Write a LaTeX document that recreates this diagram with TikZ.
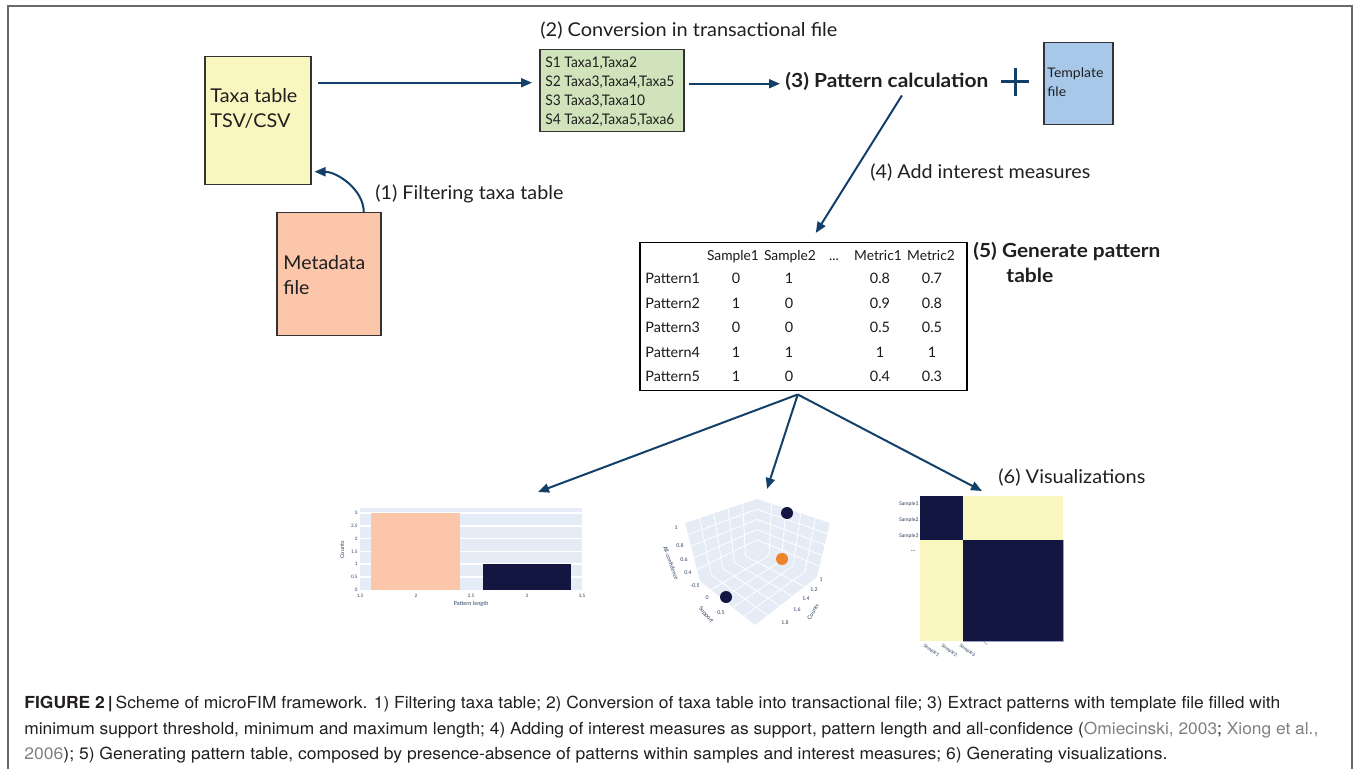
\documentclass[tikz,border=0pt]{standalone}
\usepackage{fontspec}
\setmainfont{Lato}
\newfontfamily\capfont{TeX Gyre Heros}
\usepackage{graphicx}
\usetikzlibrary{arrows.meta,calc}
\definecolor{arrblue}{RGB}{18,64,104}
\definecolor{ybox}{RGB}{250,246,192}
\definecolor{sbox}{RGB}{251,198,170}
\definecolor{gbox}{RGB}{208,227,187}
\definecolor{bbox}{RGB}{168,200,234}
\definecolor{plotbg}{RGB}{229,236,246}
\definecolor{navy}{RGB}{19,22,64}
\definecolor{dotorange}{RGB}{239,131,44}
\definecolor{hyel}{RGB}{250,246,192}
\definecolor{framegray}{RGB}{105,105,105}
\definecolor{captxt}{RGB}{35,31,32}
\definecolor{citegray}{RGB}{128,128,128}
\definecolor{tickc}{RGB}{42,63,95}
\definecolor{heatedge}{RGB}{150,160,200}
\newcommand{\fitw}[2]{\begingroup\setbox0=\hbox{#2}\edef\fitnat{\the\wd0}\pgfmathsetmacro\fitratio{#1*0.5/\fitnat}\scalebox{\fitratio}[1]{\box0}\endgroup}
\tikzset{
  box/.style={draw=black!80, line width=0.75pt, inner sep=0pt, anchor=north west},
  arr/.style={draw=arrblue, line width=1pt, -{Triangle[length=5.5pt,width=4.5pt]}},
  lbl/.style={inner sep=0pt, anchor=base west, font=\fontsize{9.5}{12.5}\selectfont, text=black!88},
  blbl/.style={lbl, font=\fontsize{9.7}{12.5}\selectfont\bfseries},
  tcell/.style={inner sep=0pt, anchor=base, font=\fontsize{7.2}{8}\selectfont, text=black!90},
  hcell/.style={tcell, font=\fontsize{6.9}{8}\selectfont},
  tick/.style={inner sep=0pt, font=\fontsize{2.3}{2.6}\selectfont, text=tickc},
  ztick/.style={tick, font=\fontsize{2.6}{3}\selectfont},
  htick/.style={tick, font=\fontsize{2.6}{3}\selectfont},
  axt/.style={inner sep=0pt, font=\fontsize{2.8}{3}\selectfont, text=tickc},
  gridw/.style={draw=white, line width=0.4pt},
  caption/.style={inner sep=0pt, anchor=base west, font=\capfont\fontsize{8.3}{10}\selectfont, text=captxt}
}
\begin{document}
\begin{tikzpicture}[x=0.5pt,y=-0.5pt]
\useasboundingbox (0,0) rectangle (1354,769);
% outer frame
\draw[framegray, line width=1pt] (8,769) -- (8,6.5) -- (1351.5,6.5) -- (1351.5,769);

% boxes
\node[box, fill=ybox, minimum width=53pt, minimum height=64pt] (taxa) at (204,56) {};
\node[box, fill=sbox, minimum width=52pt, minimum height=61.5pt] (meta) at (276,212) {};
\node[box, fill=gbox, minimum width=72pt, minimum height=41pt] (green) at (539,49) {};
\node[box, fill=bbox, minimum width=34.5pt, minimum height=41pt] (tmpl) at (1043,42) {};
\node[box, draw=black, minimum width=163.5pt, minimum height=74pt] (ptable) at (639,242) {};

% box texts
\node[lbl] (taxatxt) at (210,103) {\fitw{87}{\begin{tabular}[t]{@{}l@{}}Taxa table\\TSV/CSV\end{tabular}}};
\node[lbl] (metatxt) at (283,270) {\fitw{82}{\begin{tabular}[t]{@{}l@{}}Metadata\\file\end{tabular}}};
\node[lbl, font=\fontsize{7.3}{9.35}\selectfont] (greentxt) at (545,68) {\fitw{129}{\begin{tabular}[t]{@{}l@{}}S1 Taxa1,Taxa2\\S2 Taxa3,Taxa4,Taxa5\\S3 Taxa3,Taxa10\\S4 Taxa2,Taxa5,Taxa6\end{tabular}}};
\node[lbl, font=\fontsize{6.6}{9.5}\selectfont] (tmpltxt) at (1047,78) {\fitw{56}{\begin{tabular}[t]{@{}l@{}}Template\\file\end{tabular}}};

% step labels
\node[lbl] (l1) at (375,200) {\fitw{188}{(1) Filtering taxa table}};
\node[lbl] (l2) at (540,37) {\fitw{297}{(2) Conversion in transactional file}};
\node[blbl] (pcalc) at (785,88) {\fitw{203}{(3) Pattern calculation}};
\node[lbl] (l4) at (870,179) {\fitw{220}{(4) Add interest measures}};
\node[blbl] (l5a) at (973,258) {\fitw{187}{(5) Generate pattern}};
\node[blbl] (l5b) at (1006,283) {\fitw{47}{table}};
\node[lbl] (l6) at (998,484) {\fitw{147}{(6) Visualizations}};

% plus sign
\draw[arrblue, line width=1.5pt] (1001,82) -- (1029,82) (1015,68) -- (1015,96);

% connectors
\draw[arr] ([xshift=17.5pt]meta.north) to[out=90,in=0,looseness=0.9] ([xshift=1.5pt,yshift=-25.5pt]taxa.east);
\draw[arr] ([xshift=3pt,yshift=19pt]taxa.east) -- ([xshift=-3.5pt,yshift=4pt]green.west);
\coordinate (g3) at ([xshift=2pt,yshift=3.5pt]green.east);
\draw[arr, shorten >=2.5pt] (g3) -- (g3 -| pcalc.west);
\draw[arr] ([xshift=7.5pt,yshift=-2pt]pcalc.south) -- ([xshift=6.25pt,yshift=4.5pt]ptable.north);
\coordinate (tb) at ([xshift=-2.75pt,yshift=-1.5pt]ptable.south);
\coordinate (barT) at (538,492);
\coordinate (scatT) at (767,489);
\coordinate (heatT) at (982,491);
\draw[arr] (tb) -- (barT);
\draw[arr] (tb) -- (scatT);
\draw[arr] (tb) -- (heatT);

% table content
\node[hcell] (h1) at (733,261) {Sample1};
\node[hcell] (h2) at (790,261) {Sample2};
\node[hcell] (h3) at (834,261) {...};
\node[hcell] (h4) at (878,261) {Metric1};
\node[hcell] (h5) at (931,261) {Metric2};
\foreach \r/\a/\b/\c/\d in {1/0/1/0.8/0.7, 2/1/0/0.9/0.8, 3/0/0/0.5/0.5, 4/1/1/1/1, 5/1/0/0.4/0.3}{
  \pgfmathsetmacro\yy{284+(\r-1)*24.5}
  \node[tcell, anchor=base west] (p\r) at (645,\yy) {Pattern\r};
  \node[tcell] (s1\r) at (736,\yy) {\a};
  \node[tcell] (s2\r) at (789,\yy) {\b};
  \node[tcell] (m1\r) at (880,\yy) {\c};
  \node[tcell] (m2\r) at (932,\yy) {\d};
}

% bar chart
\fill[plotbg] (360,508) rectangle (582,590);
\foreach \v in {0.5,1,1.5,2,2.5,3}{
  \draw[white, line width=0.8pt] (360,{590-25.7*\v}) -- (582,{590-25.7*\v});
}
\fill[sbox] (371,513) rectangle (460,590);
\fill[navy] (483,564) rectangle (571,590);
\foreach \v [count=\i] in {0,0.5,1,1.5,2,2.5,3}{
  \node[tick, anchor=east] (by\i) at (358,{590-25.7*\v}) {\v};
}
\foreach \v/\xx [count=\i] in {1.5/360,2/416,2.5/471,3/527,3.5/582}{
  \node[tick] (bx\i) at (\xx,596) {\v};
}
\node[axt, rotate=90] (bcounts) at (342,550) {Counts};
\node[axt] (blen) at (471,604) {Pattern length};

% 3D scatter
\coordinate (T) at (757,499);
\coordinate (L1) at (685,523);
\coordinate (L2) at (700,581);
\coordinate (C) at (757,550);
\coordinate (B) at (755,625);
\coordinate (R2) at (817,577);
\coordinate (R1) at (830,523);
\fill[plotbg] (T) -- (L1) -- (L2) -- (C) -- cycle;
\fill[plotbg] (T) -- (R1) -- (R2) -- (C) -- cycle;
\fill[plotbg] (C) -- (L2) -- (B) -- (R2) -- cycle;
\foreach \t in {0.2,0.4,0.6,0.8}{
  \draw[gridw] ($(L1)!\t!(L2)$) -- ($(T)!\t!(C)$);
  \draw[gridw] ($(T)!\t!(L1)$) -- ($(C)!\t!(L2)$);
  \draw[gridw] ($(R1)!\t!(R2)$) -- ($(T)!\t!(C)$);
  \draw[gridw] ($(T)!\t!(R1)$) -- ($(C)!\t!(R2)$);
  \draw[gridw] ($(C)!\t!(L2)$) -- ($(R2)!\t!(B)$);
  \draw[gridw] ($(C)!\t!(R2)$) -- ($(L2)!\t!(B)$);
}
\fill[navy] (787,513) circle[radius=3pt];
\fill[dotorange] (782,559) circle[radius=3pt];
\fill[navy] (726,597) circle[radius=3pt];
\node[ztick] (za1) at (676,528) {1};
\node[ztick] (za2) at (680,546) {0.8};
\node[ztick] (za3) at (684,560) {0.6};
\node[ztick] (za4) at (688,573) {0.4};
\node[ztick] (zs1) at (695,586) {-0.5};
\node[ztick] (zs2) at (707,598) {0};
\node[ztick] (zs3) at (721,613) {0.5};
\node[ztick] (zc1) at (821,580) {1};
\node[ztick] (zc2) at (814,590) {1.2};
\node[ztick] (zc3) at (806,599) {1.4};
\node[ztick] (zc4) at (797,610) {1.6};
\node[ztick] (zc5) at (785,623) {1.8};
\node[axt, rotate=-70] (zat) at (671,563) {All-confidence};
\node[axt, rotate=-50] (zst) at (706,615) {Support};
\node[axt, rotate=60] (zct) at (813,612) {Counts};

% heatmap
\fill[navy] (920,496) rectangle (963,540);
\fill[hyel] (963,496) rectangle (1063,540);
\fill[hyel] (920,540) rectangle (963,641);
\fill[navy] (963,540) rectangle (1063,641);
\draw[heatedge, line width=0.4pt] (1063,540) -- (1063,641) -- (963,641);
\node[htick, anchor=east] (hl1) at (919,504) {Sample1};
\node[htick, anchor=east] (hl2) at (919,520) {Sample2};
\node[htick, anchor=east] (hl3) at (919,536) {Sample3};
\node[htick, anchor=east, font=\fontsize{3.5}{3}\selectfont] (hl4) at (916,551) {...};
\node[htick, anchor=north west, rotate=-35, font=\fontsize{2.4}{3}\selectfont] (hb1) at (925,643) {Sample1};
\node[htick, anchor=north west, rotate=-35, font=\fontsize{2.4}{3}\selectfont] (hb2) at (943,643) {Sample2};
\node[htick, anchor=north west, rotate=-35, font=\fontsize{2.4}{3}\selectfont] (hb3) at (961,643) {Sample3};
\node[htick, anchor=north west, rotate=-35, font=\fontsize{3.5}{3}\selectfont] (hb4) at (984,641) {...};

% caption
\node[caption] (cap1) at (24,708) {\fitw{1256}{\textbf{FIGURE 2\,|}\,Scheme of microFIM framework. 1) Filtering taxa table; 2) Conversion of taxa table into transactional file; 3) Extract patterns with template file filled with}};
\node[caption] (cap2) at (24,734) {\fitw{1294}{minimum support threshold, minimum and maximum length; 4) Adding of interest measures as support, pattern length and all-confidence (\textcolor{citegray}{Omiecinski, 2003}; \textcolor{citegray}{Xiong et al.,}}};
\node[caption] (cap3) at (24,759) {\fitw{1143}{\textcolor{citegray}{2006}); 5) Generating pattern table, composed by presence-absence of patterns within samples and interest measures; 6) Generating visualizations.}};
\end{tikzpicture}
\end{document}
